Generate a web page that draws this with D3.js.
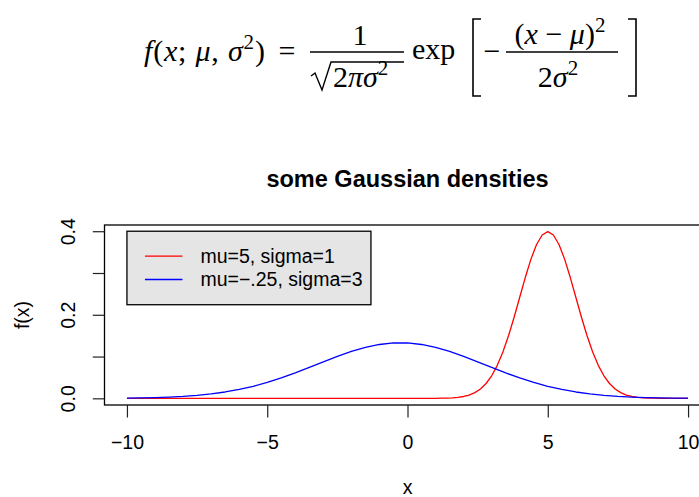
<!DOCTYPE html>
<html>
<head>
<meta charset="utf-8">
<script src="https://cdn.jsdelivr.net/npm/d3@7"></script>
<style>
  body { margin: 0; background: #fff; }
  svg { display: block; }
  .serif { font-family: "Liberation Serif", "DejaVu Serif", serif; }
</style>
</head>
<body>
<script>
'use strict';

// chart values
const title = "some Gaussian densities";
const xLabel = "x";
const yLabel = "f(x)";
const xTicks = [-10, -5, 0, 5, 10];
const yTicks = [0, 0.1, 0.2, 0.3, 0.4];
const yTickLabels = ["0.0", "", "0.2", "", "0.4"];
const legendLabels = ["mu=5, sigma=1", "mu=\u2212.25, sigma=3"];
const seriesColors = ["#ff0000", "#0000ff"];

// red curve (mu=5, sigma=1)
const redX = [-10, -8, -6, -4, -2, 0, 0.6,
  1.0, 1.2, 1.4, 1.6, 1.8, 2.0, 2.2, 2.4, 2.6, 2.8, 3.0, 3.2, 3.4, 3.6, 3.8,
  4.0, 4.2, 4.4, 4.6, 4.8, 5.0, 5.2, 5.4, 5.6, 5.8, 6.0, 6.2, 6.4, 6.6, 6.8,
  7.0, 7.2, 7.4, 7.6, 7.8, 8.0, 8.2, 8.4, 8.6, 8.8, 9.0, 9.4, 10];
const redY = [0, 0, 0, 0, 0, 0, 0,
  0.0001, 0.0003, 0.0006, 0.0012, 0.0024, 0.0044, 0.0079, 0.0136, 0.0224, 0.0355, 0.0540, 0.0790, 0.1109, 0.1497, 0.1942,
  0.2420, 0.2897, 0.3332, 0.3683, 0.3910, 0.3989, 0.3910, 0.3683, 0.3332, 0.2897, 0.2420, 0.1942, 0.1497, 0.1109, 0.0790,
  0.0540, 0.0355, 0.0224, 0.0136, 0.0079, 0.0044, 0.0024, 0.0012, 0.0006, 0.0003, 0.0001, 0, 0];

// blue curve (mu=-.25, sigma=3)
const blueX = [-10, -9.5, -9, -8.5, -8, -7.5, -7, -6.5, -6, -5.5, -5, -4.5, -4, -3.5, -3, -2.5, -2, -1.5, -1, -0.5,
  0, 0.5, 1, 1.5, 2, 2.5, 3, 3.5, 4, 4.5, 5, 5.5, 6, 6.5, 7, 7.5, 8, 8.5, 9, 9.5, 10];
const blueY = [0.0007, 0.0011, 0.0019, 0.0030, 0.0047, 0.0072, 0.0106, 0.0152, 0.0212, 0.0288, 0.0380, 0.0488, 0.0609, 0.0740, 0.0874, 0.1004, 0.1122, 0.1219, 0.1289, 0.1325,
  0.1325, 0.1289, 0.1219, 0.1122, 0.1004, 0.0874, 0.0740, 0.0609, 0.0488, 0.0380, 0.0288, 0.0212, 0.0152, 0.0106, 0.0072, 0.0047, 0.0030, 0.0019, 0.0011, 0.0007, 0.0004];

const W = 699, H = 497;
const plot = {left: 104.5, right: 710.5, top: 225, bottom: 405};
const fontSans = '"Liberation Sans", Arial, Helvetica, sans-serif';
const fs = 19.5;

const svg = d3.select('body').append('svg')
  .attr('width', W)
  .attr('height', H)
  .style('font-family', fontSans);

drawFormula();
drawChart();

// the density formula above the plot
function drawFormula() {
  const g = svg.append('g').attr('class', 'serif').attr('fill', '#000');
  const fz = 30;

  // left hand side
  const lhs = g.append('text').attr('x', 144).attr('y', 61)
    .style('font-size', fz + 'px')
    .style('letter-spacing', '0.8px');
  lhs.append('tspan').style('font-style', 'italic').text('f');
  lhs.append('tspan').text('(');
  lhs.append('tspan').style('font-style', 'italic').text('x');
  lhs.append('tspan').text('; ');
  lhs.append('tspan').style('font-style', 'italic').text('\u03bc');
  lhs.append('tspan').text(', ');
  lhs.append('tspan').style('font-style', 'italic').text('\u03c3');
  lhs.append('tspan').attr('dy', -12).style('font-size', '21px').text('2');
  lhs.append('tspan').attr('dy', 12).text(')');

  g.append('text').attr('x', 287).attr('y', 61).attr('text-anchor', 'middle')
    .style('font-size', fz + 'px').text('=');

  // 1 / sqrt(2 pi sigma^2)
  g.append('text').attr('x', 360).attr('y', 45).attr('text-anchor', 'middle')
    .style('font-size', fz + 'px').text('1');
  g.append('line').attr('x1', 310).attr('x2', 404).attr('y1', 52).attr('y2', 52)
    .attr('stroke', '#000').attr('stroke-width', 1.4);
  g.append('path').attr('d', 'M311,76 L315,73 L322,90 L331,62 L404,62')
    .attr('fill', 'none').attr('stroke', '#000').attr('stroke-width', 1.4);
  const den = g.append('text').attr('x', 333).attr('y', 87).style('font-size', fz + 'px');
  den.append('tspan').text('2');
  den.append('tspan').style('font-style', 'italic').text('\u03c0\u03c3');
  den.append('tspan').attr('dy', -12).style('font-size', '21px').text('2');

  g.append('text').attr('x', 412).attr('y', 59).style('font-size', fz + 'px').text('exp');

  // brackets
  g.append('path').attr('d', 'M481,19 L473,19 L473,96 L481,96')
    .attr('fill', 'none').attr('stroke', '#000').attr('stroke-width', 1.6);
  g.append('path').attr('d', 'M628,19 L636,19 L636,96 L628,96')
    .attr('fill', 'none').attr('stroke', '#000').attr('stroke-width', 1.6);

  g.append('text').attr('x', 492).attr('y', 61).attr('text-anchor', 'middle')
    .style('font-size', fz + 'px').text('\u2212');

  // (x - mu)^2 / 2 sigma^2
  const num = g.append('text').attr('x', 560).attr('y', 44).attr('text-anchor', 'middle')
    .style('font-size', fz + 'px');
  num.append('tspan').text('(');
  num.append('tspan').style('font-style', 'italic').text('x');
  num.append('tspan').text(' \u2212 ');
  num.append('tspan').style('font-style', 'italic').text('\u03bc');
  num.append('tspan').text(')');
  num.append('tspan').attr('dy', -12).style('font-size', '21px').text('2');
  g.append('line').attr('x1', 506).attr('x2', 618).attr('y1', 52).attr('y2', 52)
    .attr('stroke', '#000').attr('stroke-width', 1.4);
  const den2 = g.append('text').attr('x', 558).attr('y', 87).attr('text-anchor', 'middle')
    .style('font-size', fz + 'px');
  den2.append('tspan').text('2');
  den2.append('tspan').style('font-style', 'italic').text('\u03c3');
  den2.append('tspan').attr('dy', -12).style('font-size', '21px').text('2');
}

function drawChart() {
  const xScale = d3.scaleLinear()
    .domain([-10.8, 10.8])
    .range([plot.left, plot.right]);
  const yScale = d3.scaleLinear()
    .domain([-0.01596, 0.4149])
    .range([plot.bottom, plot.top]);

  // title
  svg.append('text')
    .attr('x', 407.5)
    .attr('y', 187)
    .attr('text-anchor', 'middle')
    .style('font-size', '23.5px')
    .style('font-weight', 'bold')
    .text(title);

  // clip curves to plot region
  svg.append('clipPath').attr('id', 'plotclip')
    .append('rect')
    .attr('x', plot.left).attr('y', plot.top)
    .attr('width', plot.right - plot.left)
    .attr('height', plot.bottom - plot.top);

  const line = d3.line()
    .x(d => xScale(d[0]))
    .y(d => yScale(d[1]));

  const series = [
    d3.zip(redX, redY),
    d3.zip(blueX, blueY)
  ];

  svg.append('g')
    .attr('clip-path', 'url(#plotclip)')
    .selectAll('path')
    .data(series)
    .enter()
    .append('path')
      .attr('d', line)
      .attr('fill', 'none')
      .attr('stroke', (d, i) => seriesColors[i])
      .attr('stroke-width', 1.3)
      .attr('stroke-linejoin', 'round');

  // box around plot
  svg.append('rect')
    .attr('x', plot.left).attr('y', plot.top)
    .attr('width', plot.right - plot.left)
    .attr('height', plot.bottom - plot.top)
    .attr('fill', 'none')
    .attr('stroke', '#000')
    .attr('stroke-width', 1.3);

  // x axis
  const xAxis = svg.append('g')
    .attr('transform', 'translate(0,' + plot.bottom + ')')
    .style('font-size', fs + 'px')
    .call(d3.axisBottom(xScale).tickValues(xTicks).tickSize(12.5).tickPadding(18));
  xAxis.select('.domain').remove();
  xAxis.selectAll('line').attr('stroke', '#222').attr('stroke-width', 1.2);
  xAxis.selectAll('text').attr('fill', '#000').style('font-family', fontSans);

  // y axis, labels rotated like R's default
  const yAxis = svg.append('g')
    .attr('transform', 'translate(' + plot.left + ',0)')
    .style('font-size', fs + 'px')
    .call(d3.axisLeft(yScale).tickValues(yTicks).tickSize(11.7)
      .tickFormat((d, i) => yTickLabels[i]));
  yAxis.select('.domain').remove();
  yAxis.selectAll('line').attr('stroke', '#222').attr('stroke-width', 1.2);
  yAxis.selectAll('text')
    .attr('fill', '#000')
    .style('font-family', fontSans)
    .attr('text-anchor', 'middle')
    .attr('transform', 'rotate(-90)')
    .attr('x', 0)
    .attr('y', -29.5)
    .attr('dy', 0);

  // axis titles
  svg.append('text')
    .attr('x', 407.5)
    .attr('y', 494)
    .attr('text-anchor', 'middle')
    .style('font-size', fs + 'px')
    .text(xLabel);
  svg.append('text')
    .attr('transform', 'translate(29, 315)rotate(-90)')
    .attr('text-anchor', 'middle')
    .style('font-size', fs + 'px')
    .text(yLabel);

  // legend at (-10, 0.4)
  const lx = xScale(-10), ly = yScale(0.4);
  const legend = svg.append('g').attr('transform', 'translate(' + lx + ',' + ly + ')');
  legend.append('rect')
    .attr('x', 0).attr('y', 0)
    .attr('width', 244).attr('height', 73.5)
    .attr('fill', '#e5e5e5')
    .attr('stroke', '#000')
    .attr('stroke-width', 1.3);
  const items = legend.selectAll('.item')
    .data(legendLabels)
    .enter()
    .append('g')
      .attr('transform', (d, i) => 'translate(0,' + (25 + i * 23.3) + ')');
  items.append('line')
    .attr('x1', 18).attr('x2', 55.5)
    .attr('y1', 0).attr('y2', 0)
    .attr('stroke', (d, i) => seriesColors[i])
    .attr('stroke-width', 1.3);
  items.append('text')
    .attr('x', 73.5)
    .attr('dy', '0.35em')
    .style('font-size', fs + 'px')
    .text(d => d);
}
</script>
</body>
</html>
